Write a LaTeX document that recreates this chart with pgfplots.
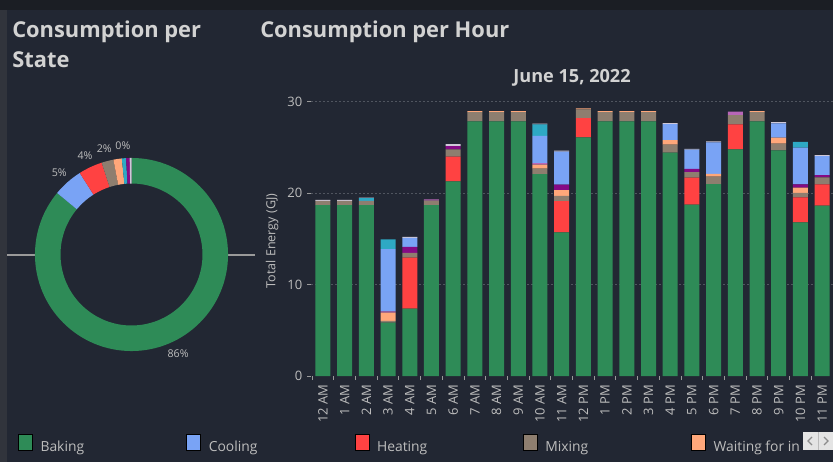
\documentclass[border=0pt]{standalone}
\usepackage{fontspec}
\setmainfont{Open Sans}
\usepackage{pgfplots}
\usepackage{pgfplotstable}
\pgfplotsset{compat=1.18}

\definecolor{panel}{HTML}{222733}
\definecolor{topband}{HTML}{1B1E24}
\definecolor{leftband}{HTML}{31343C}
\definecolor{titletext}{HTML}{D2D2D2}
\definecolor{ticktext}{HTML}{BDBDBD}
\definecolor{tickgray}{HTML}{9A9A9A}
\definecolor{gridgray}{HTML}{50555F}
\definecolor{btnfill}{HTML}{E4E4E4}
\definecolor{btnline}{HTML}{BBBBBB}
\definecolor{btnarrow}{HTML}{8C8C8C}
\definecolor{cBak}{HTML}{2E8B57}
\definecolor{cCoo}{HTML}{79A3F5}
\definecolor{cHea}{HTML}{FF4242}
\definecolor{cMix}{HTML}{8E7E6F}
\definecolor{cWai}{HTML}{FFA77A}
\definecolor{cPur}{HTML}{850A85}
\definecolor{cPnk}{HTML}{B866B8}
\definecolor{cCya}{HTML}{2EA9C4}
\definecolor{cPal}{HTML}{CFC8D8}

% energy per hour (GJ), one column per state, in stacking order
\pgfplotstableread{
hour bak hea mix wai pur pnk coo cya pal
0  18.70 0    0.45 0    0    0    0    0    0.12
1  18.70 0    0.45 0    0    0    0    0    0.12
2  18.70 0    0.45 0    0    0    0    0.30 0.05
3  5.83  0    0.20 0.90 0    0.15 6.80 1.05 0
4  7.36  5.60 0.50 0    0.65 0    1.00 0    0.12
5  18.70 0    0.47 0    0    0.15 0    0    0
6  21.29 2.70 0.80 0    0.36 0    0    0    0.20
7  27.85 0    1.00 0.12 0    0    0    0    0
8  27.85 0    1.00 0.12 0    0    0    0    0
9  27.85 0    1.00 0.12 0    0    0    0    0
10 22.09 0    0.60 0.43 0    0.15 3.00 1.24 0.10
11 15.71 3.43 0.55 0.65 0.60 0    3.60 0    0.10
12 26.10 2.10 0.95 0.12 0    0    0    0    0
13 27.85 0    1.00 0.12 0    0    0    0    0
14 27.85 0    1.00 0.12 0    0    0    0    0
15 27.85 0    1.00 0.12 0    0    0    0    0
16 24.43 0    0.87 0.50 0    0    1.75 0    0.12
17 18.74 2.95 0.60 0    0.36 0    2.10 0    0.10
18 21.00 0    0.80 0.30 0    0    3.46 0    0.10
19 24.79 2.73 1.00 0    0    0.40 0    0    0
20 27.85 0    1.00 0.12 0    0    0    0    0
21 24.68 0    0.73 0.66 0    0    1.57 0    0.12
22 16.80 2.73 0.50 0.58 0.36 0    4.00 0.63 0
23 18.63 2.33 0.77 0    0.25 0    2.08 0    0.10
}\hourly

% share per state (%), clockwise from the top
\def\pBak{86.0}
\def\pCoo{5.0}
\def\pHea{4.0}
\def\pMix{2.0}
\def\pWai{1.4}
\def\pCya{0.7}
\def\pPur{0.6}
\def\pPal{0.3}

\def\Ro{72.4pt}
\def\Ri{53.25pt}
\def\Rw{19.15pt}
\newcommand\slice[3]{%
  \fill[#1] (axis cs:0,0) ++({90-3.6*(#2)}:\Ro)
    arc[start angle={90-3.6*(#2)}, end angle={90-3.6*(#3)}, radius=\Ro]
    -- ++({270-3.6*(#3)}:\Rw)
    arc[start angle={90-3.6*(#3)}, end angle={90-3.6*(#2)}, radius=\Ri] -- cycle;}
\newcommand\plab[2]{%
  \path (axis cs:0,0) ++({90-3.6*(#1)}:82pt) node[text=ticktext, font=\fontsize{8}{9}\selectfont]{#2};}

\begin{document}
\begin{tikzpicture}[x=0.75pt, y=0.75pt]
% dashboard background
\fill[panel] (0,0) rectangle (833,462);
\fill[topband] (0,452) rectangle (833,462);
\fill[leftband] (0,0) rectangle (7,452);

% titles
\node[anchor=base west, text=titletext, font=\bfseries\fontsize{16.4}{19}\selectfont, inner sep=0pt] at (12,424.5) {Consumption per};
\node[anchor=base west, text=titletext, font=\bfseries\fontsize{16.4}{19}\selectfont, inner sep=0pt] at (12,395) {State};
\node[anchor=base west, text=titletext, font=\bfseries\fontsize{16.4}{19}\selectfont, inner sep=0pt] at (260,424.5) {Consumption per Hour};
\node[anchor=base, text=titletext, font=\bfseries\fontsize{13.6}{15}\selectfont, inner sep=0pt] at (572,380) {June 15, 2022};

% donut
\draw[tickgray, line width=1.5pt] (7,207.5) -- (35,207.5) (228,207.5) -- (255,207.5);
\begin{axis}[
  at={(98.625pt,155.625pt)}, anchor=center,
  x=0.75pt, y=0.75pt,
  xmin=-100, xmax=100, ymin=-100, ymax=100,
  hide axis, clip=false,
]
\slice{cBak}{0}{\pBak}
\slice{cCoo}{\pBak}{\pBak+\pCoo}
\slice{cHea}{\pBak+\pCoo}{\pBak+\pCoo+\pHea}
\slice{cMix}{\pBak+\pCoo+\pHea}{\pBak+\pCoo+\pHea+\pMix}
\slice{cWai}{\pBak+\pCoo+\pHea+\pMix}{\pBak+\pCoo+\pHea+\pMix+\pWai}
\slice{cCya}{\pBak+\pCoo+\pHea+\pMix+\pWai}{\pBak+\pCoo+\pHea+\pMix+\pWai+\pCya}
\slice{cPur}{100-\pPal-\pPur}{100-\pPal}
\slice{cPal}{100-\pPal}{100}
\plab{\pBak/2}{86\%}
\plab{\pBak+\pCoo/2}{5\%}
\plab{\pBak+\pCoo+\pHea/2}{4\%}
\plab{\pBak+\pCoo+\pHea+\pMix/2}{2\%}
\plab{\pBak+\pCoo+\pHea+\pMix+\pWai+\pCya/2}{0\%}
\end{axis}

% stacked bars per hour
\begin{axis}[
  at={(233.25pt,64.5pt)}, anchor=south west,
  width=391.5pt, height=216pt, scale only axis,
  xmin=-0.55, xmax=23.5, ymin=0, ymax=31.5,
  enlargelimits=false,
  ybar stacked, bar width=11.25pt,
  axis x line*=bottom, axis y line*=left,
  axis line style={draw=none},
  xtick={0,...,23},
  xticklabels={12 AM,1 AM,2 AM,3 AM,4 AM,5 AM,6 AM,7 AM,8 AM,9 AM,10 AM,11 AM,
    12 PM,1 PM,2 PM,3 PM,4 PM,5 PM,6 PM,7 PM,8 PM,9 PM,10 PM,11 PM},
  minor xtick={-0.5,0.5,...,23.5},
  major x tick style={draw=none},
  minor x tick style={draw=tickgray, line width=0.75pt},
  minor tick length=3pt,
  ytick={10,20,30},
  extra y ticks={0},
  extra y tick style={grid=none},
  major y tick style={draw=tickgray, line width=0.75pt},
  major tick length=3pt,
  tick align=outside,
  ymajorgrids,
  major grid style={draw=gridgray, dash pattern=on 1.5pt off 1.5pt, line width=0.75pt},
  xticklabel style={rotate=90, anchor=east, text=ticktext, font=\fontsize{9.75}{11}\selectfont},
  yticklabel style={text=ticktext, font=\fontsize{9.75}{11}\selectfont},
  /pgf/number format/assume math mode=true,
  ylabel={Total Energy (GJ)},
  ylabel style={at={(axis description cs:-0.0747,0.469)}, anchor=center,
    text=ticktext, font=\fontsize{9.4}{11}\selectfont},
  every axis plot/.append style={draw=none},
]
\addplot[fill=cBak] table[x=hour, y=bak] {\hourly};
\addplot[fill=cHea] table[x=hour, y=hea] {\hourly};
\addplot[fill=cMix] table[x=hour, y=mix] {\hourly};
\addplot[fill=cWai] table[x=hour, y=wai] {\hourly};
\addplot[fill=cPur] table[x=hour, y=pur] {\hourly};
\addplot[fill=cPnk] table[x=hour, y=pnk] {\hourly};
\addplot[fill=cCoo] table[x=hour, y=coo] {\hourly};
\addplot[fill=cCya] table[x=hour, y=cya] {\hourly};
\addplot[fill=cPal] table[x=hour, y=pal] {\hourly};
\end{axis}

% legend row
\begin{axis}[
  at={(13.5pt,21pt)}, anchor=south west,
  x=1pt, y=1pt, xmin=0, xmax=10, ymin=0, ymax=10,
  hide axis,
  legend columns=5,
  legend image code/.code={\fill[#1] (0pt,-2.5pt) rectangle (10.5pt,9.5pt);},
  legend style={at={(axis cs:0,0)}, anchor=north west, draw=none, fill=none,
    inner sep=0pt, outer sep=0pt, nodes={inner sep=0pt},
    column sep=0pt, /tikz/every odd column/.append style={column sep=6pt},
    text=ticktext, font=\fontsize{10.4}{12}\selectfont},
]
\addlegendimage{fill=cBak}
\addlegendentry{\makebox[109.3pt][l]{Baking}}
\addlegendimage{fill=cCoo}
\addlegendentry{\makebox[109.3pt][l]{Cooling}}
\addlegendimage{fill=cHea}
\addlegendentry{\makebox[109.3pt][l]{Heating}}
\addlegendimage{fill=cMix}
\addlegendentry{\makebox[109.3pt][l]{Mixing}}
\addlegendimage{fill=cWai}
\addlegendentry{Waiting for in}
\end{axis}

% legend scroll buttons
\fill[btnfill] (803,12) rectangle (833,30);
\draw[btnline, line width=0.75pt] (818,12) -- (818,30);
\draw[btnarrow, line width=1pt] (812,25) -- (808,21) -- (812,17);
\draw[btnarrow, line width=1pt] (824,25) -- (828,21) -- (824,17);

\pgfresetboundingbox
\path (0,0) rectangle (833,462);
\end{tikzpicture}
\end{document}
